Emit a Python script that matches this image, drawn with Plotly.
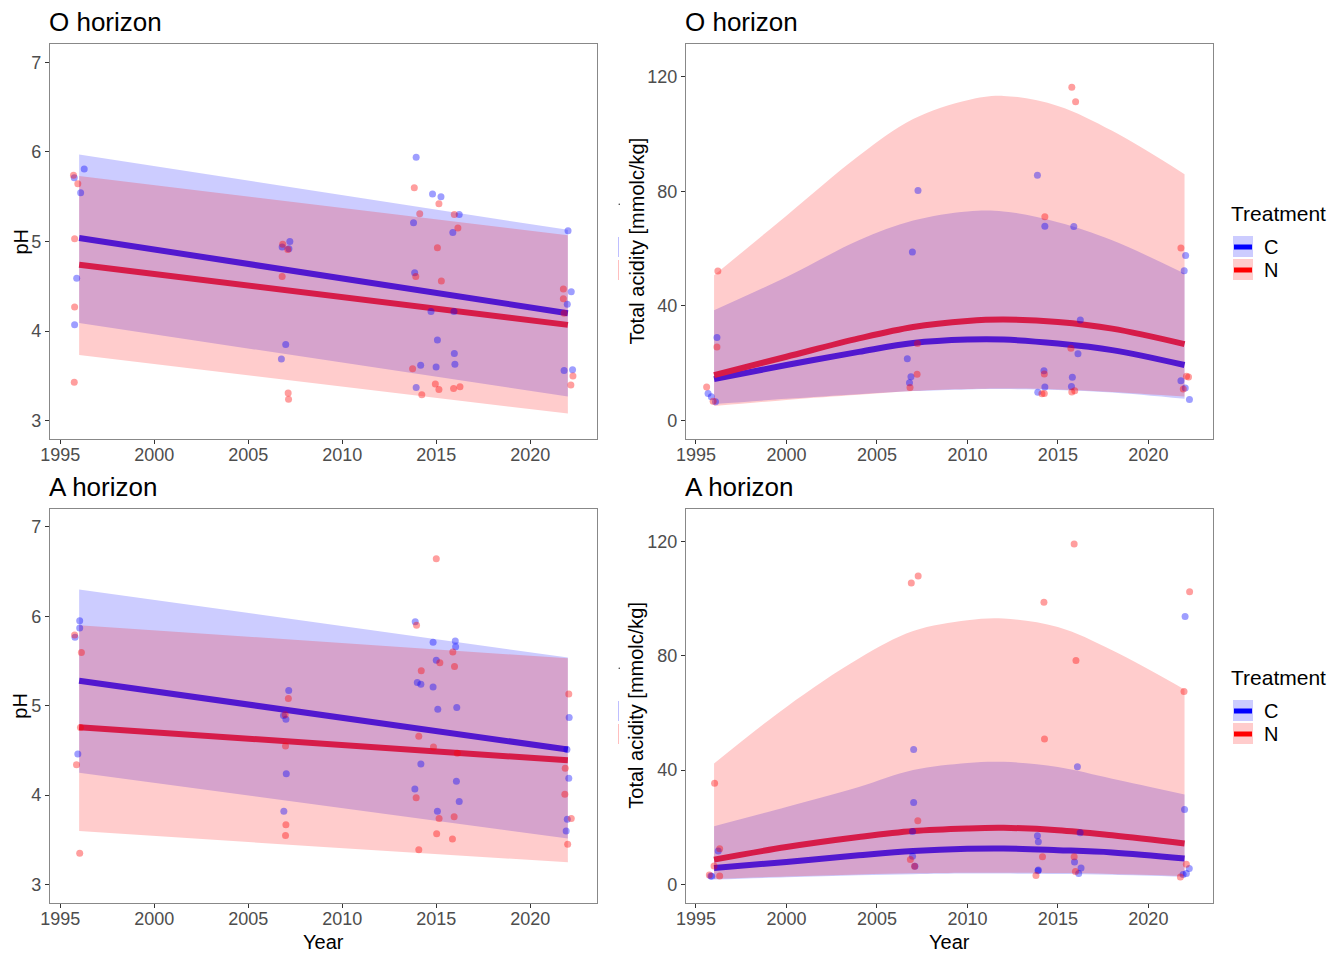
import plotly.graph_objects as go

W, H = 1344, 955

# ---------------- DATA ----------------
years_lin = [1996, 2009, 2022]
years_crv = [1996, 2000, 2004, 2007, 2010, 2012, 2015, 2018, 2022]

# O horizon pH (linear fits with prediction bands)
o_ph_C_fit = [5.04, 4.62, 4.20]
o_ph_C_up = [5.97, 5.55, 5.13]
o_ph_C_lo = [4.09, 3.68, 3.27]
o_ph_N_fit = [4.74, 4.40, 4.07]
o_ph_N_up = [5.73, 5.40, 5.07]
o_ph_N_lo = [3.735, 3.41, 3.08]

# A horizon pH
a_ph_C_fit = [5.28, 4.89, 4.51]
a_ph_C_up = [6.30, 5.92, 5.54]
a_ph_C_lo = [4.25, 3.88, 3.515]
a_ph_N_fit = [4.76, 4.57, 4.39]
a_ph_N_up = [5.90, 5.715, 5.53]
a_ph_N_lo = [3.60, 3.42, 3.25]

# O horizon total acidity
o_ta_N_up = [50.7, 71.5, 92.4, 105.2, 111.8, 113.3, 109.8, 101.1, 86.0]
o_ta_C_up = [38.5, 50.1, 62.9, 69.8, 73.0, 73.0, 69.2, 62.9, 51.3]
o_ta_N_fit = [15.9, 22.3, 28.7, 32.7, 34.8, 35.3, 34.4, 32.1, 26.7]
o_ta_C_fit = [14.5, 19.4, 24.0, 27.1, 28.3, 28.3, 26.9, 24.6, 19.4]
o_ta_C_lo = [5.8, 7.6, 9.2, 10.3, 10.9, 11.0, 10.7, 9.8, 7.6]
o_ta_N_lo = [5.1, 7.2, 9.0, 10.3, 11.0, 11.2, 10.9, 10.0, 8.4]

# A horizon total acidity
a_ta_N_up = [42.3, 62.1, 79.0, 88.6, 92.4, 93.0, 90.0, 81.9, 68.2]
a_ta_C_up = [20.4, 27.1, 34.1, 40.0, 42.5, 42.9, 41.1, 37.0, 31.5]
a_ta_N_fit = [8.7, 13.1, 16.6, 18.7, 19.6, 19.8, 19.0, 17.2, 14.3]
a_ta_C_fit = [5.8, 7.9, 10.2, 11.7, 12.5, 12.6, 12.0, 11.2, 9.1]
a_ta_C_lo = [1.7, 2.5, 3.2, 3.6, 3.8, 3.8, 3.7, 3.4, 2.7]
a_ta_N_lo = [2.0, 2.8, 3.5, 3.9, 4.1, 4.1, 4.0, 3.7, 3.0]

# Observations: O horizon pH
o_ph_C_x = [1995.74, 1996.27, 1996.08, 1995.87, 1995.76, 2006.80, 2007.21, 2007.16, 2006.99, 2006.76,
            2013.93, 2013.79, 2013.85, 2014.72, 2014.17, 2013.93, 2014.80, 2015.25, 2015.06, 2014.99,
            2015.88, 2016.22, 2015.96, 2015.99, 2015.94, 2022.01, 2022.18, 2021.97, 2021.80, 2022.25]
o_ph_C_y = [5.71, 5.81, 5.545, 4.59, 4.07, 4.94, 5.00, 4.92, 3.85, 3.69,
            5.94, 5.21, 4.65, 4.22, 3.62, 3.37, 5.53, 5.50, 3.90, 3.60,
            5.10, 5.30, 3.75, 3.63, 4.22, 5.12, 4.44, 4.30, 3.56, 3.57]
o_ph_N_x = [1995.70, 1995.93, 1995.76, 1995.76, 1995.74, 2006.83, 2007.10, 2006.80, 2007.12, 2007.14,
            2013.83, 2014.12, 2013.91, 2013.74, 2014.23, 2015.14, 2015.06, 2015.27, 2014.95, 2015.14,
            2015.96, 2016.15, 2015.92, 2016.26, 2021.76, 2021.76, 2022.27, 2022.16, 2021.80]
o_ph_N_y = [5.74, 5.645, 5.03, 4.27, 3.43, 4.97, 4.91, 4.61, 3.31, 3.24,
            5.60, 5.31, 4.61, 3.58, 3.29, 5.42, 4.93, 4.56, 3.41, 3.35,
            5.30, 5.15, 3.36, 3.38, 4.47, 4.36, 3.50, 3.40, 4.20]

# Observations: A horizon pH
a_ph_C_x = [1995.78, 1996.03, 1996.03, 1995.93, 2013.88, 2013.99, 2014.18, 2014.83, 2014.83, 2015.00,
            2015.08, 2014.18, 2013.86, 2015.06, 2016.01, 2016.03, 2016.09, 2016.07, 2016.22, 2007.15,
            2006.87, 2007.00, 2007.02, 2006.89, 2022.07, 2022.05, 2021.97, 2021.91, 2021.95]
a_ph_C_y = [5.766, 5.95, 5.87, 4.46, 5.94, 5.26, 5.24, 5.21, 5.71, 5.51,
            4.96, 4.35, 4.07, 3.82, 5.725, 5.66, 4.98, 4.155, 3.93, 5.17,
            4.89, 4.85, 4.24, 3.82, 4.87, 4.19, 3.73, 3.60, 4.51]
a_ph_N_x = [1995.76, 1996.12, 1995.86, 1996.03, 1996.07, 2007.13, 2006.96, 2006.98, 2007.00, 2006.98,
            2013.95, 2014.20, 2014.07, 2013.93, 2014.07, 2015.00, 2015.19, 2014.85, 2015.15, 2015.02,
            2015.88, 2015.97, 2016.12, 2015.95, 2015.86, 2022.05, 2021.86, 2021.84, 2022.18, 2021.99]
a_ph_N_y = [5.79, 5.595, 4.34, 3.35, 4.756, 5.08, 4.90, 4.55, 3.67, 3.55,
            5.90, 5.39, 4.66, 3.97, 3.39, 6.645, 5.48, 4.54, 3.74, 3.57,
            5.60, 5.44, 4.47, 3.76, 3.51, 5.13, 4.30, 4.01, 3.74, 3.45]

# Observations: O horizon total acidity
o_ta_C_x = [1995.67, 1995.85, 1996.08, 1996.16, 2007.27, 2006.96, 2006.68, 2006.88, 2006.80, 2013.87,
            2014.28, 2014.23, 2014.28, 2013.89, 2015.88, 2016.24, 2016.11, 2015.80, 2015.75, 2022.06,
            2021.98, 2021.80, 2022.04, 2022.27]
o_ta_C_y = [9.5, 8.3, 6.6, 29.0, 80.3, 58.8, 21.6, 15.3, 13.2, 85.6,
            67.8, 17.4, 11.7, 9.9, 67.7, 35.1, 23.3, 15.1, 11.9, 57.6,
            52.3, 13.9, 11.4, 7.4]
o_ta_N_x = [1995.59, 1996.21, 1996.16, 1995.95, 2007.22, 2007.24, 2006.83, 2014.28, 2014.25, 2014.12,
            2014.25, 2015.77, 2015.98, 2015.72, 2015.77, 2015.93, 2021.80, 2022.11, 2022.22, 2021.93]
o_ta_N_y = [11.7, 52.2, 25.7, 6.8, 16.2, 26.9, 11.6, 71.1, 16.3, 9.4,
            9.5, 116.3, 111.3, 25.3, 10.0, 10.4, 60.2, 15.5, 15.2, 11.0]

# Observations: A horizon total acidity
a_ta_C_x = [1995.82, 1995.87, 1996.23, 2007.03, 2007.03, 2006.97, 2006.97, 2007.10, 2013.87, 2013.92,
            2013.92, 2013.90, 2016.08, 2016.23, 2015.92, 2016.28, 2016.15, 2022.03, 2022.00, 2022.26,
            2022.10, 2021.92]
a_ta_C_y = [3.0, 2.9, 11.7, 47.2, 28.7, 18.5, 9.9, 6.4, 17.0, 14.9,
            5.1, 4.8, 41.2, 18.1, 7.9, 5.8, 3.8, 93.7, 26.2, 5.6,
            3.8, 3.5]
a_ta_N_x = [1996.03, 1996.31, 1996.00, 1995.74, 1996.31, 2006.90, 2007.28, 2007.26, 2006.85, 2007.08,
            2014.23, 2014.26, 2014.15, 2013.79, 2015.90, 2016.00, 2015.90, 2015.97, 2022.28, 2021.97,
            2022.10, 2021.77]
a_ta_N_y = [35.4, 12.5, 6.5, 3.3, 3.0, 105.4, 107.9, 22.3, 8.7, 6.4,
            98.7, 50.9, 9.7, 3.1, 119.1, 78.3, 9.7, 4.5, 102.4, 67.5,
            7.1, 2.6]

treatments = ["C", "N"]
panel_titles = ["O horizon", "O horizon", "A horizon", "A horizon"]
y_titles = ["pH", "Total acidity [mmolc/kg]", "pH", "Total acidity [mmolc/kg]"]
x_title = "Year"
x_ticks = [1995, 2000, 2005, 2010, 2015, 2020]
ph_ticks = [3, 4, 5, 6, 7]
ta_ticks = [0, 40, 80, 120]

# ---------------- STYLE ----------------
FONT = "Liberation Sans, Arial, sans-serif"
C_FILL = "rgba(0,0,255,0.2)"
N_FILL = "rgba(255,0,0,0.2)"
C_LINE = "#5218CF"
N_LINE = "#D61C49"
C_PT = "rgba(0,0,255,0.38)"
N_PT = "rgba(255,0,0,0.38)"

def px(x):
    return x / W

def py(y):
    return 1 - y / H

fig = go.Figure()

panels = [
    ("x", "y", years_lin, (o_ph_C_lo, o_ph_C_up, o_ph_C_fit), (o_ph_N_lo, o_ph_N_up, o_ph_N_fit),
     (o_ph_C_x, o_ph_C_y), (o_ph_N_x, o_ph_N_y), "linear"),
    ("x2", "y2", years_crv, (o_ta_C_lo, o_ta_C_up, o_ta_C_fit), (o_ta_N_lo, o_ta_N_up, o_ta_N_fit),
     (o_ta_C_x, o_ta_C_y), (o_ta_N_x, o_ta_N_y), "spline"),
    ("x3", "y3", years_lin, (a_ph_C_lo, a_ph_C_up, a_ph_C_fit), (a_ph_N_lo, a_ph_N_up, a_ph_N_fit),
     (a_ph_C_x, a_ph_C_y), (a_ph_N_x, a_ph_N_y), "linear"),
    ("x4", "y4", years_crv, (a_ta_C_lo, a_ta_C_up, a_ta_C_fit), (a_ta_N_lo, a_ta_N_up, a_ta_N_fit),
     (a_ta_C_x, a_ta_C_y), (a_ta_N_x, a_ta_N_y), "spline"),
]

for xa, ya, yrs, cband, nband, cpts, npts, shape in panels:
    for band, fillc in ((cband, C_FILL), (nband, N_FILL)):
        lo, up, _ = band
        fig.add_trace(go.Scatter(x=yrs, y=lo, xaxis=xa, yaxis=ya, mode="lines",
                                 line=dict(width=0, shape=shape), hoverinfo="skip", showlegend=False))
        fig.add_trace(go.Scatter(x=yrs, y=up, xaxis=xa, yaxis=ya, mode="lines", fill="tonexty",
                                 fillcolor=fillc, line=dict(width=0, shape=shape),
                                 hoverinfo="skip", showlegend=False))
    for band, lc in ((cband, C_LINE), (nband, N_LINE)):
        fig.add_trace(go.Scatter(x=yrs, y=band[2], xaxis=xa, yaxis=ya, mode="lines",
                                 line=dict(width=6, color=lc, shape=shape), showlegend=False))
    for pts, pc in ((cpts, C_PT), (npts, N_PT)):
        fig.add_trace(go.Scatter(x=pts[0], y=pts[1], xaxis=xa, yaxis=ya, mode="markers",
                                 marker=dict(size=7, color=pc, line=dict(width=0)), showlegend=False))

# ---------------- AXES ----------------
left_dom = [px(50), px(597)]
right_dom = [px(686), px(1212.6)]
top_dom = [py(438.7), py(44.3)]
bot_dom = [py(902.5), py(509)]

common_x = dict(range=[1994.45, 2023.55], tickvals=x_ticks, ticks="outside", ticklen=4,
                tickcolor="#333333", tickwidth=1, showline=True, mirror=True, linecolor="#888888",
                linewidth=1.2, showgrid=False, zeroline=False, automargin=False,
                ticklabelstandoff=-4,
                tickfont=dict(family=FONT, size=18, color="#4D4D4D"))
common_y = dict(ticks="outside", ticklen=4, tickcolor="#333333", tickwidth=1, showline=True,
                mirror=True, linecolor="#888888", linewidth=1.2, showgrid=False, zeroline=False,
                automargin=False, tickfont=dict(family=FONT, size=18, color="#4D4D4D"))

fig.update_layout(
    xaxis=dict(domain=left_dom, anchor="y", **common_x),
    xaxis2=dict(domain=right_dom, anchor="y2", **common_x),
    xaxis3=dict(domain=left_dom, anchor="y3", **common_x),
    xaxis4=dict(domain=right_dom, anchor="y4", **common_x),
    yaxis=dict(domain=top_dom, anchor="x", range=[2.8, 7.2], tickvals=ph_ticks, **common_y),
    yaxis2=dict(domain=top_dom, anchor="x2", range=[-6.3, 131.3], tickvals=ta_ticks, **common_y),
    yaxis3=dict(domain=bot_dom, anchor="x3", range=[2.8, 7.2], tickvals=ph_ticks, **common_y),
    yaxis4=dict(domain=bot_dom, anchor="x4", range=[-6.3, 131.3], tickvals=ta_ticks, **common_y),
)

# ---------------- TITLES / LEGENDS ----------------
annotations = []
shapes = []
TFONT = dict(family=FONT, size=20, color="black")

title_pos = [(47, 22.5), (683, 22.5), (47, 487), (683, 487)]
for t, (tx, ty) in zip(panel_titles, title_pos):
    annotations.append(dict(text=t, x=px(tx), y=py(ty), xref="paper", yref="paper",
                            xanchor="left", yanchor="middle", showarrow=False,
                            font=dict(family=FONT, size=26, color="black")))

ytitle_pos = [(20, 241.5), (636, 241.5), (20, 705.7), (636, 705.7)]
for t, (tx, ty) in zip(y_titles, ytitle_pos):
    annotations.append(dict(text=t, x=px(tx), y=py(ty), xref="paper", yref="paper",
                            xanchor="center", yanchor="middle", showarrow=False, textangle=-90,
                            font=TFONT))
for tx in (323.5, 949.3):
    annotations.append(dict(text=x_title, x=px(tx), y=py(942), xref="paper", yref="paper",
                            xanchor="center", yanchor="middle", showarrow=False, font=TFONT))

for off in (0, 464):
    annotations.append(dict(text="Treatment", x=px(1229), y=py(213 + off), xref="paper", yref="paper",
                            xanchor="left", yanchor="middle", showarrow=False,
                            font=dict(family=FONT, size=21, color="black")))
    for i, (lab, fillc, lc) in enumerate(zip(treatments, (C_FILL, N_FILL), ("#0000FF", "#FF0000"))):
        y0 = 236 + off + i * 23
        shapes.append(dict(type="rect", xref="paper", yref="paper", x0=px(1233), x1=px(1253),
                           y0=py(y0 + 21), y1=py(y0), fillcolor=fillc, line=dict(width=0)))
        shapes.append(dict(type="rect", xref="paper", yref="paper", x0=px(1234), x1=px(1252),
                           y0=py(y0 + 13.5), y1=py(y0 + 8.5), fillcolor=lc, line=dict(width=0)))
        annotations.append(dict(text=lab, x=px(1262), y=py(y0 + 11), xref="paper", yref="paper",
                                xanchor="left", yanchor="middle", showarrow=False,
                                font=dict(family=FONT, size=20, color="black")))
    shapes.append(dict(type="line", xref="paper", yref="paper", x0=px(618.5), x1=px(618.5),
                       y0=py(237 + off), y1=py(257 + off), line=dict(color="rgba(0,0,255,0.25)", width=1)))
    shapes.append(dict(type="line", xref="paper", yref="paper", x0=px(618.5), x1=px(618.5),
                       y0=py(260 + off), y1=py(280 + off), line=dict(color="rgba(255,0,0,0.25)", width=1)))
    shapes.append(dict(type="circle", xref="paper", yref="paper", x0=px(618.5), x1=px(620),
                       y0=py(205 + off), y1=py(203.5 + off), fillcolor="#333333", line=dict(width=0)))

fig.update_layout(
    width=W, height=H, margin=dict(l=0, r=0, t=0, b=0, autoexpand=False),
    paper_bgcolor="white", plot_bgcolor="white",
    showlegend=False, annotations=annotations, shapes=shapes,
    font=dict(family=FONT),
)

fig.write_html("out.html", config={"displayModeBar": False},
               post_script="document.body.style.margin='0';document.body.style.overflow='hidden';")
